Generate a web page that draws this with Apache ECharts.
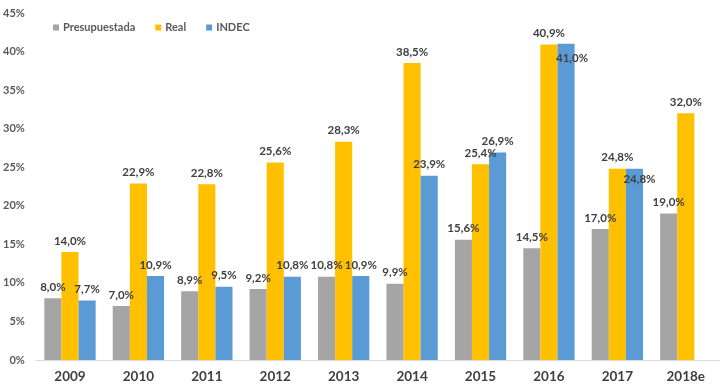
<!DOCTYPE html>
<html>
<head>
<meta charset="utf-8">
<script src="https://cdn.jsdelivr.net/npm/echarts@6/dist/echarts.min.js"></script>
<style>html,body{margin:0;padding:0;background:#fff}#c{width:720px;height:389px}</style>
</head>
<body>
<div id="c"></div>
<script>
var categories = ['2009','2010','2011','2012','2013','2014','2015','2016','2017','2018e'];
var presupuestada = [8.0, 7.0, 8.9, 9.2, 10.8, 9.9, 15.6, 14.5, 17.0, 19.0];
var real = [14.0, 22.9, 22.8, 25.6, 28.3, 38.5, 25.4, 40.9, 24.8, 32.0];
var indec = [7.7, 10.9, 9.5, 10.8, 10.9, 23.9, 26.9, 41.0, 24.8, null];
var yTicks = [0, 5, 10, 15, 20, 25, 30, 35, 40, 45];

var FONT = 'Lato';
var TXT = '#404040';
function fmt(v){ return v.toFixed(1).replace('.', ',') + '%'; }

var baseLabel = {
  show: true, position: 'top', distance: 5,
  fontFamily: FONT, fontWeight: 'bold', fontSize: 11.5, color: TXT,
  formatter: function(p){ return p.value == null ? '' : fmt(p.value); }
};

var insideOverrides = { 7: [6, 3], 8: [5, 0] };
var indecData = indec.map(function(v, i){
  if (insideOverrides[i]) {
    return { value: v, label: { position: 'insideTop', offset: insideOverrides[i] } };
  }
  return v;
});

var chart = echarts.init(document.getElementById('c'), null, {renderer:'canvas'});
chart.setOption({
  animation: false,
  color: ['#A5A5A5', '#FFC000', '#5B9BD5'],
  legend: {
    left: 48, top: 17,
    itemWidth: 6, itemHeight: 6, itemGap: 20,
    icon: 'rect',
    textStyle: { fontFamily: FONT, fontWeight: 'bold', fontSize: 11, color: '#595959', padding: [0,0,0,-1] },
    data: ['Presupuestada', 'Real', 'INDEC']
  },
  grid: { left: 34, top: 13, width: 696, bottom: 29, containLabel: false },
  xAxis: {
    type: 'category', data: categories,
    axisLine: { show: true, lineStyle: { color: '#D9D9D9', width: 1 } },
    axisTick: { show: false },
    axisLabel: { margin: 10, fontFamily: FONT, fontWeight: 'bold', fontSize: 13.5, color: TXT }
  },
  yAxis: {
    type: 'value', min: yTicks[0], max: yTicks[yTicks.length-1], interval: 5,
    axisLine: { show: false }, axisTick: { show: false },
    splitLine: { show: false },
    axisLabel: { margin: 11, fontFamily: FONT, fontWeight: 'bold', fontSize: 11, color: '#595959', formatter: '{value}%' }
  },
  series: [
    { name: 'Presupuestada', type: 'bar', data: presupuestada, barGap: '0%', barCategoryGap: '25%', label: baseLabel },
    { name: 'Real', type: 'bar', data: real, barGap: '0%', barCategoryGap: '25%', label: baseLabel },
    { name: 'INDEC', type: 'bar', data: indecData, barGap: '0%', barCategoryGap: '25%', label: baseLabel }
  ]
});
</script>
</body>
</html>
